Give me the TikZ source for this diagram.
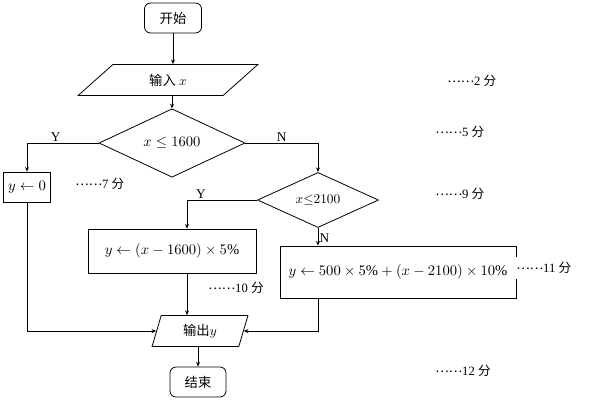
\documentclass[tikz,border=0pt]{standalone}
\usepackage{fontspec}
\setmainfont{Liberation Serif}
\newfontfamily\cjk{Noto Sans CJK SC}
\usetikzlibrary{arrows.meta,positioning,shapes.geometric}
\tikzset{
  term/.style={draw, rounded corners=4.5pt, minimum width=42.75pt,
        minimum height=22.5pt, inner sep=0pt, font=\cjk\fontsize{10}{12}\selectfont},
  io/.style={draw, trapezium, trapezium stretches=true, inner sep=0pt,
        font=\fontsize{10}{12}\selectfont},
  dec/.style={draw, diamond, inner sep=0pt, font=\fontsize{11}{13}\selectfont},
  box/.style={draw, inner sep=0pt, font=\fontsize{11}{13}\selectfont},
  flow/.style={-{Stealth[length=3.5pt,width=3pt]}},
  flab/.style={font=\fontsize{10}{12}\selectfont, inner sep=1pt},
  score/.style={anchor=west, inner sep=1.5pt, font=\fontsize{9.5}{11}\selectfont}
}
\newcommand{\scorelabel}[1]{\raisebox{0.28em}{\cjk ……}#1 {\cjk 分}}

\begin{document}
\begin{tikzpicture}[x=0.75pt, y=-0.75pt, line width=0.6pt]
\useasboundingbox (0,0) rectangle (589,401);

% flow nodes
\node[term] (start) at (173,18) {开始};
\node[io, trapezium left angle=46, trapezium right angle=134,
      minimum width=135pt, minimum height=23.25pt] (input) at (168,80)
      {{\cjk 输入}\ $x$};
\node[dec, minimum width=109.5pt, minimum height=39pt] (d1) at (172,143) {$x\le1600$};
\node[box, minimum width=35.25pt, minimum height=22.5pt] (zero) at (27,187) {$y\leftarrow0$};
\node[dec, minimum width=90.75pt, minimum height=39.75pt,
      font=\fontsize{10}{12}\selectfont] (d2) at (318,200) {$x{\le}2100$};
\node[box, minimum width=126pt, minimum height=33pt] (low) at (172,251)
      {$y\leftarrow\left(x-1600\right)\times5\%$};
\node[box, minimum width=177pt, minimum height=39pt] (high) at (398,272)
      {$y\leftarrow500\times5\%+\left(x-2100\right)\times10\%$};
\node[io, trapezium left angle=74, trapezium right angle=106,
      minimum width=72pt, minimum height=23.25pt] (output) at (200,331)
      {{\cjk 输出}$y$};
\node[term, minimum width=42pt] (stop) at (198,382) {结束};

% connectors
\draw[flow] (start.south) -- (start.south |- input.north);
\draw[flow] (input.south -| d1.north) -- (d1.north);
\draw[flow] (d1.west) -| node[flab, pos=0.3, above] {Y} (zero.north);
\draw[flow] (d1.east) -| node[flab, pos=0.25, above] {N} (d2.north);
\draw[flow] (d2.west) -| node[flab, pos=0.4, above] {Y} ([xshift=11.25pt]low.north);
\draw[flow] (d2.south) -- node[flab, right, pos=0.55] {N} (d2.south |- high.north);
\draw[flow] ([xshift=11.25pt]low.south) -- ([xshift=11.25pt]low.south |- output.north);
\draw[flow] (zero.south) |- (output.west);
\draw[flow] (d2.south |- high.south) |- (output.east);
\draw[flow] (stop.north |- output.south) -- (stop.north);

% marks
\node[score] (s2) at (445,81) {\scorelabel{2}};
\node[score] (s5) at (433,132) {\scorelabel{5}};
\node[score] (s7) at (73,184) {\scorelabel{7}};
\node[score] (s9) at (433,194) {\scorelabel{9}};
\node[score] (s10) at (206,288) {\scorelabel{10}};
\node[score, fill=white, inner ysep=4pt] (s11) at (514,268) {\scorelabel{11}};
\node[score] (s12) at (433,371) {\scorelabel{12}};
\end{tikzpicture}
\end{document}
